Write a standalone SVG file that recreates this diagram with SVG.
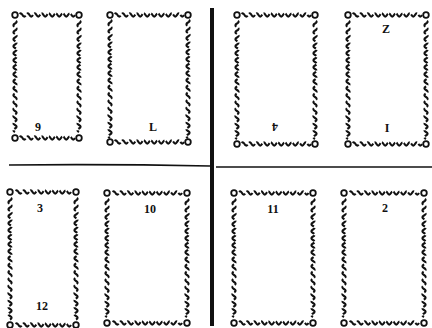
<svg xmlns="http://www.w3.org/2000/svg" width="432" height="328" viewBox="0 0 432 328">
<style>
.w{fill:none;stroke:#111;stroke-width:2.1;stroke-dasharray:8.1 1.8;stroke-dashoffset:-0.9}
.c{fill:#fff;stroke:#111;stroke-width:1.8}
.t{font-family:"Liberation Serif",serif;font-weight:bold;font-size:12px;fill:#111;text-anchor:middle}
.ln{stroke:#111;fill:none}
</style>
<defs>
<path id="h16" d="M0,0 q1.75,-3.2 3.5,0 t3.5,0 t3.5,0 t3.5,0 t3.5,0 t3.5,0 t3.5,0 t3.5,0 t3.5,0 t3.5,0 t3.5,0 t3.5,0 t3.5,0 t3.5,0 t3.5,0 t3.5,0"/>
<path id="h20" d="M0,0 q1.75,-3.2 3.5,0 t3.5,0 t3.5,0 t3.5,0 t3.5,0 t3.5,0 t3.5,0 t3.5,0 t3.5,0 t3.5,0 t3.5,0 t3.5,0 t3.5,0 t3.5,0 t3.5,0 t3.5,0 t3.5,0 t3.5,0 t3.5,0 t3.5,0"/>
<path id="v32" d="M0,0 q3.2,1.75 0,3.5 t0,3.5 t0,3.5 t0,3.5 t0,3.5 t0,3.5 t0,3.5 t0,3.5 t0,3.5 t0,3.5 t0,3.5 t0,3.5 t0,3.5 t0,3.5 t0,3.5 t0,3.5 t0,3.5 t0,3.5 t0,3.5 t0,3.5 t0,3.5 t0,3.5 t0,3.5 t0,3.5 t0,3.5 t0,3.5 t0,3.5 t0,3.5 t0,3.5 t0,3.5 t0,3.5 t0,3.5"/>
<path id="v34" d="M0,0 q3.2,1.75 0,3.5 t0,3.5 t0,3.5 t0,3.5 t0,3.5 t0,3.5 t0,3.5 t0,3.5 t0,3.5 t0,3.5 t0,3.5 t0,3.5 t0,3.5 t0,3.5 t0,3.5 t0,3.5 t0,3.5 t0,3.5 t0,3.5 t0,3.5 t0,3.5 t0,3.5 t0,3.5 t0,3.5 t0,3.5 t0,3.5 t0,3.5 t0,3.5 t0,3.5 t0,3.5 t0,3.5 t0,3.5 t0,3.5 t0,3.5"/>
<path id="v35" d="M0,0 q3.2,1.75 0,3.5 t0,3.5 t0,3.5 t0,3.5 t0,3.5 t0,3.5 t0,3.5 t0,3.5 t0,3.5 t0,3.5 t0,3.5 t0,3.5 t0,3.5 t0,3.5 t0,3.5 t0,3.5 t0,3.5 t0,3.5 t0,3.5 t0,3.5 t0,3.5 t0,3.5 t0,3.5 t0,3.5 t0,3.5 t0,3.5 t0,3.5 t0,3.5 t0,3.5 t0,3.5 t0,3.5 t0,3.5 t0,3.5 t0,3.5 t0,3.5"/>
</defs>
<rect width="432" height="328" fill="#fff"/>
<g id="connectors">
<line class="ln" x1="212" y1="8" x2="212" y2="326" stroke-width="4"/>
<path class="ln" d="M9,165 Q110,164 210,166" stroke-width="1.6"/>
<path class="ln" d="M216,167 L432,167" stroke-width="1.6"/>
</g>
<g id="card1">
<use href="#h16" class="w" x="19" y="15"/><use href="#h16" class="w" x="19" y="138"/>
<use href="#v32" class="w" x="15" y="20"/><use href="#v32" class="w" x="79" y="20"/>
<circle class="c" cx="15" cy="15" r="2.8"/><circle class="c" cx="79" cy="15" r="2.8"/><circle class="c" cx="15" cy="138" r="2.8"/><circle class="c" cx="79" cy="138" r="2.8"/>
<text class="t" x="38" y="131">9</text>
</g>
<g id="card2">
<use href="#h20" class="w" x="114" y="15"/><use href="#h20" class="w" x="114" y="142"/>
<use href="#v34" class="w" x="110" y="19"/><use href="#v34" class="w" x="188" y="19"/>
<circle class="c" cx="110" cy="15" r="2.8"/><circle class="c" cx="188" cy="15" r="2.8"/><circle class="c" cx="110" cy="142" r="2.8"/><circle class="c" cx="188" cy="142" r="2.8"/>
<text class="t" x="153" y="131">L</text>
</g>
<g id="card3">
<use href="#h20" class="w" x="241" y="15"/><use href="#h20" class="w" x="241" y="144"/>
<use href="#v34" class="w" x="237" y="20"/><use href="#v34" class="w" x="315" y="20"/>
<circle class="c" cx="237" cy="15" r="2.8"/><circle class="c" cx="315" cy="15" r="2.8"/><circle class="c" cx="237" cy="144" r="2.8"/><circle class="c" cx="315" cy="144" r="2.8"/>
<text class="t" x="275" y="131" transform="rotate(180 275 127)">4</text>
</g>
<g id="card4">
<use href="#h20" class="w" x="352" y="15"/><use href="#h20" class="w" x="352" y="144"/>
<use href="#v34" class="w" x="348" y="20"/><use href="#v34" class="w" x="426" y="20"/>
<circle class="c" cx="348" cy="15" r="2.8"/><circle class="c" cx="426" cy="15" r="2.8"/><circle class="c" cx="348" cy="144" r="2.8"/><circle class="c" cx="426" cy="144" r="2.8"/>
<text class="t" x="386" y="33">Z</text>
<text class="t" x="387" y="132">I</text>
</g>
<g id="card5">
<use href="#h16" class="w" x="15" y="192"/><use href="#h16" class="w" x="15" y="325"/>
<use href="#v35" class="w" x="10" y="197"/><use href="#v35" class="w" x="76" y="197"/>
<circle class="c" cx="10" cy="192" r="2.8"/><circle class="c" cx="76" cy="192" r="2.8"/><circle class="c" cx="10" cy="325" r="2.8"/><circle class="c" cx="76" cy="325" r="2.8"/>
<text class="t" x="40" y="212">3</text>
<text class="t" x="42" y="310">12</text>
</g>
<g id="card6">
<use href="#h20" class="w" x="112" y="193"/><use href="#h20" class="w" x="112" y="323"/>
<use href="#v34" class="w" x="107" y="198"/><use href="#v34" class="w" x="187" y="198"/>
<circle class="c" cx="107" cy="193" r="2.8"/><circle class="c" cx="187" cy="193" r="2.8"/><circle class="c" cx="107" cy="323" r="2.8"/><circle class="c" cx="187" cy="323" r="2.8"/>
<text class="t" x="150" y="213">10</text>
</g>
<g id="card7">
<use href="#h20" class="w" x="238.5" y="193"/><use href="#h20" class="w" x="238.5" y="323"/>
<use href="#v34" class="w" x="234" y="198"/><use href="#v34" class="w" x="313" y="198"/>
<circle class="c" cx="234" cy="193" r="2.8"/><circle class="c" cx="313" cy="193" r="2.8"/><circle class="c" cx="234" cy="323" r="2.8"/><circle class="c" cx="313" cy="323" r="2.8"/>
<text class="t" x="273" y="213">11</text>
</g>
<g id="card8">
<use href="#h20" class="w" x="349" y="193"/><use href="#h20" class="w" x="349" y="323"/>
<use href="#v34" class="w" x="344" y="198"/><use href="#v34" class="w" x="424" y="198"/>
<circle class="c" cx="344" cy="193" r="2.8"/><circle class="c" cx="424" cy="193" r="2.8"/><circle class="c" cx="344" cy="323" r="2.8"/><circle class="c" cx="424" cy="323" r="2.8"/>
<text class="t" x="385" y="212">2</text>
</g>
</svg>
